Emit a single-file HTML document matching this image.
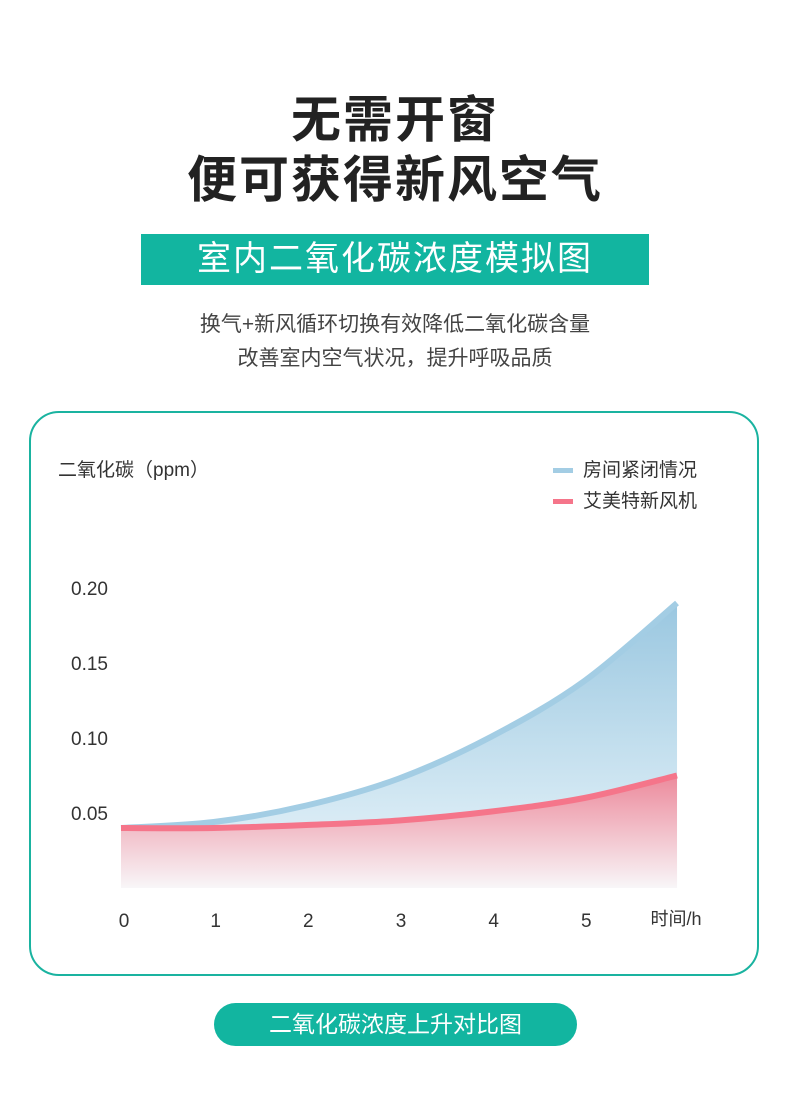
<!DOCTYPE html>
<html><head><meta charset="utf-8">
<style>
body{margin:0;width:790px;height:1094px;background:#fff;position:relative;overflow:hidden;font-family:"Liberation Sans","Noto Sans CJK SC",sans-serif;color:#333}
.a{position:absolute}
.t{left:0;width:790px;text-align:center;font-weight:bold;color:#222;font-size:50px;letter-spacing:2px}
</style></head><body>
<div class="a t" style="top:80px">无需开窗</div>
<div class="a t" style="top:140px">便可获得新风空气</div>
<div class="a" style="left:141px;top:234px;width:508px;height:51px;background:#12b5a0;color:#fff;font-size:34px;text-align:center;line-height:51px;letter-spacing:2px">室内二氧化碳浓度模拟图</div>
<div class="a" style="left:0;top:308px;width:790px;text-align:center;font-size:21px;line-height:34px;color:#444">换气+新风循环切换有效降低二氧化碳含量<br>改善室内空气状况，提升呼吸品质</div>
<div class="a" style="left:29px;top:411px;width:726px;height:561px;border:2px solid #1ab3a0;border-radius:30px"></div>
<div class="a" style="left:58px;top:455px;font-size:19px;color:#333">二氧化碳（ppm）</div>
<div class="a" style="left:553px;top:455px;font-size:19px"><span style="display:inline-block;width:20px;height:5px;background:#a3cde4;vertical-align:middle;margin-right:10px"></span>房间紧闭情况</div>
<div class="a" style="left:553px;top:486px;font-size:19px"><span style="display:inline-block;width:20px;height:5px;background:#f5758a;vertical-align:middle;margin-right:10px"></span>艾美特新风机</div>
<svg class="a" style="left:0;top:0" width="790" height="1094">
<defs>
<linearGradient id="gb" x1="0" y1="0" x2="0" y2="1"><stop offset="0" stop-color="#9ac7e0"/><stop offset="0.7" stop-color="#d3e8f3"/><stop offset="1" stop-color="#eef5fa"/></linearGradient>
<linearGradient id="gr" x1="0" y1="0" x2="0" y2="1"><stop offset="0" stop-color="#ec8a9c"/><stop offset="1" stop-color="#f8f6f8"/></linearGradient>
<linearGradient id="gh" x1="0" y1="0" x2="1" y2="0"><stop offset="0.9" stop-color="#aaa"/><stop offset="1" stop-color="#aaa" stop-opacity="0"/></linearGradient>
<linearGradient id="gv" x1="0" y1="0" x2="0" y2="1"><stop offset="0" stop-color="#aaa" stop-opacity="0"/><stop offset="0.15" stop-color="#aaa"/></linearGradient>
</defs>
<g id="grid"></g><g id="areas"></g><g id="lines"></g><g id="labels"></g>
</svg>
<div class="a" style="left:214px;top:1003px;width:363px;height:43px;border-radius:22px;background:#12b5a0;color:#fff;font-size:23px;text-align:center;line-height:43px">二氧化碳浓度上升对比图</div>
<script>
const hours=[0,1,2,3,4,5,6];
const closedRoom=[0.040,0.044,0.055,0.073,0.101,0.138,0.190];
const fanOn=[0.040,0.040,0.042,0.045,0.051,0.060,0.075];
const yTicks=[0.05,0.10,0.15,0.20];
const yTickLabels=["0.05","0.10","0.15","0.20"];
const xTickLabels=["0","1","2","3","4","5"];
const NS="http://www.w3.org/2000/svg";
const X=v=>121+v*92.67, Y=v=>888-v*1500;
function mk(t,a,p){const e=document.createElementNS(NS,t);for(const k in a)e.setAttribute(k,a[k]);document.getElementById(p).appendChild(e);return e;}
for(let i=0;i<=12;i++){const l=mk('line',{x1:X(i/2),x2:X(i/2),y1:528,y2:888,stroke:'url(#gv)','stroke-width':1},'grid');

}
[0].concat(yTicks).forEach(v=>{const l=mk('line',{x1:121,x2:722,y1:Y(v),y2:Y(v),stroke:'url(#gh)','stroke-width':1},'grid');

});
function curve(d){const p=hours.map((h,i)=>[X(h),Y(d[i])]);let s=`M${p[0][0]},${p[0][1]}`;
for(let i=0;i<p.length-1;i++){const p0=p[i-1]||p[i],p1=p[i],p2=p[i+1],p3=p[i+2]||p2;
s+=` C${p1[0]+(p2[0]-p0[0])/6},${p1[1]+(p2[1]-p0[1])/6} ${p2[0]-(p3[0]-p1[0])/6},${p2[1]-(p3[1]-p1[1])/6} ${p2[0]},${p2[1]}`;}return s;}
const cb=curve(closedRoom),cr=curve(fanOn);
const ab=mk('path',{d:cb+` L${X(6)},${Y(0)} L${X(0)},${Y(0)}Z`,fill:'url(#gb)'},'areas');


const ar=mk('path',{d:cr+` L${X(6)},${Y(0)} L${X(0)},${Y(0)}Z`,fill:'url(#gr)'},'areas');


const lb=mk('path',{d:cb,fill:'none',stroke:'#a3cde4','stroke-width':6},'lines');


const lr=mk('path',{d:cr,fill:'none',stroke:'#f5758a','stroke-width':6},'lines');


yTicks.forEach((v,i)=>{const t=mk('text',{x:108,y:Y(v)+7,'text-anchor':'end','font-size':19,fill:'#333'},'labels');t.textContent=yTickLabels[i];

});
xTickLabels.forEach((s,i)=>{const t=mk('text',{x:X(i)+(i==0?3:2),y:927,'text-anchor':'middle','font-size':19,fill:'#333'},'labels');t.textContent=s;

});
const xt=mk('text',{x:676,y:925,'text-anchor':'middle','font-size':18,fill:'#333'},'labels');xt.textContent='时间/h';


</script>
</body></html>
